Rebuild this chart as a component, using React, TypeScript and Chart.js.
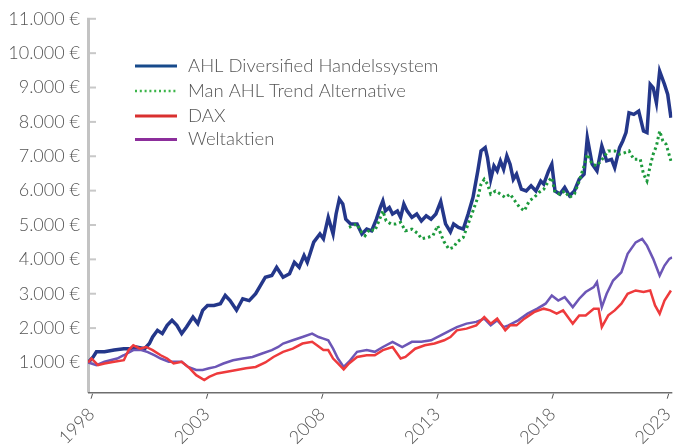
import React, { useEffect, useRef } from "react";
import { Chart, registerables } from "chart.js";

Chart.register(...registerables);

// ---- data (x = year as decimal, y = value in €) ----
const ahlYears = [1997.85, 1998.07, 1998.21, 1998.56, 1998.98, 1999.4, 1999.68, 1999.95, 2000.3, 2000.51, 2000.65, 2000.86, 2001.07, 2001.28, 2001.49, 2001.7, 2001.91, 2002.12, 2002.4, 2002.61, 2002.82, 2003.03, 2003.31, 2003.59, 2003.8, 2004.01, 2004.29, 2004.56, 2004.84, 2005.12, 2005.54, 2005.82, 2006.03, 2006.31, 2006.59, 2006.8, 2007.01, 2007.22, 2007.36, 2007.64, 2007.91, 2008.06, 2008.27, 2008.48, 2008.61, 2008.75, 2008.9, 2009.03, 2009.24, 2009.52, 2009.73, 2009.94, 2010.15, 2010.36, 2010.53, 2010.64, 2010.75, 2010.92, 2011.06, 2011.27, 2011.41, 2011.55, 2011.69, 2011.9, 2012.11, 2012.31, 2012.52, 2012.73, 2012.94, 2013.15, 2013.36, 2013.57, 2013.71, 2013.92, 2014.13, 2014.34, 2014.55, 2014.76, 2014.9, 2015.08, 2015.18, 2015.32, 2015.46, 2015.6, 2015.74, 2015.88, 2016.02, 2016.16, 2016.3, 2016.44, 2016.65, 2016.86, 2017.07, 2017.28, 2017.49, 2017.62, 2017.83, 2017.97, 2018.11, 2018.32, 2018.53, 2018.74, 2018.95, 2019.16, 2019.37, 2019.51, 2019.72, 2019.93, 2020.14, 2020.35, 2020.56, 2020.7, 2020.91, 2021.05, 2021.19, 2021.32, 2021.53, 2021.74, 2021.95, 2022.1, 2022.24, 2022.37, 2022.51, 2022.65, 2022.86, 2023.0, 2023.14];
const ahlValues = [1000, 1160, 1310, 1310, 1360, 1400, 1400, 1450, 1400, 1550, 1740, 1935, 1840, 2080, 2225, 2080, 1840, 2030, 2320, 2130, 2515, 2660, 2660, 2710, 2950, 2800, 2520, 2855, 2800, 3000, 3480, 3530, 3770, 3480, 3580, 3915, 3770, 4110, 3915, 4500, 4740, 4600, 5220, 4740, 5320, 5750, 5610, 5170, 5030, 5030, 4740, 4880, 4830, 5170, 5510, 5700, 5410, 5510, 5320, 5410, 5220, 5610, 5410, 5220, 5320, 5120, 5270, 5170, 5320, 5680, 5030, 4800, 5030, 4930, 4880, 5320, 5800, 6575, 7155, 7250, 6960, 6330, 6720, 6575, 6865, 6620, 7010, 6770, 6330, 6480, 6040, 5990, 6140, 5990, 6280, 6190, 6575, 6770, 5990, 5900, 6090, 5850, 5990, 6330, 6480, 7540, 6770, 6575, 7300, 6865, 6910, 6670, 7250, 7445, 7690, 8265, 8220, 8315, 7735, 7690, 9090, 8990, 8555, 9475, 9090, 8800, 8120];

const manYears = [2009.17, 2009.52, 2009.66, 2009.87, 2010.08, 2010.29, 2010.5, 2010.64, 2010.78, 2010.99, 2011.2, 2011.41, 2011.62, 2011.9, 2012.18, 2012.31, 2012.6, 2012.81, 2013.02, 2013.15, 2013.29, 2013.5, 2013.71, 2013.85, 2014.13, 2014.34, 2014.55, 2014.76, 2014.9, 2015.04, 2015.18, 2015.32, 2015.53, 2015.74, 2015.95, 2016.16, 2016.37, 2016.58, 2016.78, 2016.99, 2017.2, 2017.41, 2017.62, 2017.83, 2017.97, 2018.11, 2018.32, 2018.53, 2018.74, 2018.95, 2019.16, 2019.37, 2019.51, 2019.72, 2019.93, 2020.21, 2020.42, 2020.7, 2020.91, 2021.12, 2021.32, 2021.53, 2021.81, 2021.95, 2022.1, 2022.24, 2022.37, 2022.51, 2022.65, 2022.79, 2022.93, 2023.14];
const manValues = [4930, 5030, 4830, 4690, 4880, 4830, 5170, 5410, 5120, 5030, 5030, 5075, 4830, 4880, 4740, 4600, 4640, 4690, 4980, 4740, 4520, 4300, 4350, 4500, 4640, 5030, 5410, 5800, 6190, 6330, 6190, 5900, 5990, 5900, 5800, 5900, 5700, 5510, 5410, 5700, 5800, 5945, 6040, 6280, 6380, 5945, 5900, 5990, 5800, 5900, 6280, 6720, 7060, 6770, 6720, 6960, 7155, 7155, 7060, 7100, 7155, 6910, 6910, 6480, 6280, 6720, 7060, 7300, 7735, 7445, 7350, 6865];

const daxYears = [1997.85, 1998.0, 1998.28, 1998.56, 1998.98, 1999.4, 1999.61, 1999.81, 2000.1, 2000.37, 2000.65, 2001.0, 2001.28, 2001.56, 2001.91, 2002.26, 2002.54, 2002.89, 2003.1, 2003.45, 2003.87, 2004.29, 2004.7, 2005.12, 2005.54, 2005.89, 2006.31, 2006.73, 2007.15, 2007.57, 2007.78, 2008.06, 2008.27, 2008.48, 2008.69, 2008.94, 2009.17, 2009.52, 2009.94, 2010.29, 2010.64, 2011.06, 2011.41, 2011.62, 2012.04, 2012.46, 2012.88, 2013.3, 2013.57, 2013.85, 2014.27, 2014.69, 2015.04, 2015.32, 2015.6, 2015.95, 2016.16, 2016.44, 2016.78, 2017.2, 2017.62, 2017.9, 2018.18, 2018.46, 2018.88, 2019.16, 2019.44, 2019.79, 2020.0, 2020.14, 2020.42, 2020.7, 2020.99, 2021.26, 2021.61, 2021.95, 2022.24, 2022.45, 2022.65, 2022.86, 2023.14];
const daxValues = [1000, 1115, 920, 970, 1020, 1065, 1360, 1500, 1400, 1450, 1360, 1210, 1115, 970, 1020, 830, 630, 490, 580, 680, 730, 780, 830, 870, 1000, 1160, 1310, 1400, 1550, 1600, 1500, 1360, 1360, 1115, 970, 800, 970, 1160, 1210, 1210, 1360, 1450, 1115, 1160, 1400, 1500, 1550, 1645, 1740, 1935, 1985, 2080, 2320, 2130, 2275, 1935, 2080, 2080, 2275, 2465, 2565, 2515, 2420, 2515, 2130, 2370, 2370, 2565, 2565, 2030, 2370, 2515, 2710, 3000, 3095, 3050, 3095, 2660, 2420, 2800, 3095];

const weltYears = [1997.85, 1998.21, 1998.56, 1999.11, 1999.4, 1999.81, 2000.16, 2000.44, 2000.72, 2001.0, 2001.35, 2001.63, 2001.91, 2002.19, 2002.54, 2002.82, 2003.1, 2003.38, 2003.72, 2004.14, 2004.56, 2004.98, 2005.4, 2005.82, 2006.1, 2006.31, 2006.73, 2007.15, 2007.57, 2007.85, 2008.06, 2008.27, 2008.48, 2008.69, 2008.94, 2009.17, 2009.52, 2009.94, 2010.29, 2010.64, 2011.06, 2011.48, 2011.9, 2012.31, 2012.73, 2013.15, 2013.57, 2013.85, 2014.27, 2014.69, 2015.04, 2015.32, 2015.6, 2015.88, 2016.09, 2016.51, 2016.92, 2017.34, 2017.7, 2017.97, 2018.25, 2018.53, 2018.88, 2019.16, 2019.44, 2019.79, 2019.93, 2020.14, 2020.35, 2020.63, 2020.99, 2021.26, 2021.61, 2021.89, 2022.1, 2022.37, 2022.65, 2022.86, 2023.07, 2023.19];
const weltValues = [1000, 920, 1020, 1115, 1210, 1360, 1360, 1300, 1210, 1115, 1020, 1020, 1020, 870, 780, 780, 830, 870, 970, 1065, 1115, 1160, 1260, 1360, 1450, 1550, 1645, 1740, 1840, 1740, 1695, 1645, 1400, 1115, 870, 1020, 1310, 1360, 1310, 1450, 1600, 1450, 1600, 1600, 1645, 1790, 1935, 2030, 2130, 2180, 2275, 2080, 2225, 2030, 2080, 2225, 2420, 2565, 2710, 2950, 2800, 2900, 2610, 2855, 3050, 3190, 3340, 2610, 3000, 3385, 3625, 4160, 4495, 4595, 4400, 4015, 3530, 3820, 4015, 4060];

const seriesLabels = ["AHL Diversified Handelssystem", "Man AHL Trend Alternative", "DAX", "Weltaktien"];
const yTickValues = [1000, 2000, 3000, 4000, 5000, 6000, 7000, 8000, 9000, 10000, 11000];
const xTickValues = [1998, 2003, 2008, 2013, 2018, 2023];

const FONT_FAMILY = "Lato, 'Open Sans', sans-serif";
const TEXT_COLOR = "#555555";

const toPoints = (xs: number[], ys: number[]) => xs.map((x, i) => ({ x, y: ys[i] }));

const legendStyles = [
  { color: "#174a8b", dash: [] as number[] },
  { color: "#3cb54a", dash: [2, 2.8] },
  { color: "#d9302f", dash: [] as number[] },
  { color: "#8c2e9b", dash: [] as number[] },
];

const decorPlugin = {
  id: "decor",
  beforeDatasetsDraw(chart: any) {
    const { ctx, chartArea, scales } = chart;
    const ys = scales.y;
    const xs = scales.x;
    ctx.save();
    // y axis line
    ctx.strokeStyle = "#c3c3c3";
    ctx.lineWidth = 3;
    ctx.beginPath();
    ctx.moveTo(chartArea.left + 0.5, chartArea.top - 1);
    ctx.lineTo(chartArea.left + 0.5, chartArea.bottom);
    ctx.stroke();
    // y tick marks (inside)
    ctx.strokeStyle = "#c8c8c8";
    ctx.lineWidth = 2;
    yTickValues.forEach((v) => {
      const py = ys.getPixelForValue(v);
      ctx.beginPath();
      ctx.moveTo(chartArea.left + 2, py);
      ctx.lineTo(chartArea.left + 8, py);
      ctx.stroke();
    });
    // x axis line
    ctx.strokeStyle = "#6e6e6e";
    ctx.lineWidth = 1.5;
    ctx.beginPath();
    ctx.moveTo(chartArea.left, chartArea.bottom);
    ctx.lineTo(chartArea.right, chartArea.bottom);
    ctx.stroke();
    // x tick marks (slanted)
    ctx.strokeStyle = "#555";
    ctx.lineWidth = 1;
    xTickValues.forEach((v) => {
      const px = xs.getPixelForValue(v);
      ctx.beginPath();
      ctx.moveTo(px + 1, chartArea.bottom + 1);
      ctx.lineTo(px - 0.5, chartArea.bottom + 6);
      ctx.stroke();
    });
    ctx.restore();
  },
  afterDraw(chart: any) {
    const { ctx } = chart;
    const rows = [66, 91, 116, 139.5];
    ctx.save();
    seriesLabels.forEach((label, i) => {
      const y = rows[i];
      const st = legendStyles[i];
      ctx.strokeStyle = st.color;
      ctx.lineWidth = i === 1 ? 2.5 : 3;
      ctx.setLineDash(st.dash);
      ctx.beginPath();
      ctx.moveTo(135, y);
      ctx.lineTo(177, y);
      ctx.stroke();
      ctx.setLineDash([]);
      ctx.fillStyle = TEXT_COLOR;
      ctx.font = `300 18.5px ${FONT_FAMILY}`;
      ctx.textAlign = "left";
      ctx.textBaseline = "middle";
      ctx.fillText(label, 188, y);
    });
    ctx.restore();
  },
};

export default function App() {
  const ref = useRef<HTMLCanvasElement>(null);
  useEffect(() => {
    document.body.style.margin = "0";
    const canvas = ref.current!;
    const chart = new Chart(canvas, {
      type: "line",
      data: {
        datasets: [
          {
            label: seriesLabels[1],
            data: toPoints(manYears, manValues),
            borderColor: "#1d9a3c",
            borderWidth: 3,
            borderDash: [2.5, 3],
            pointRadius: 0,
            tension: 0,
            order: 0,
          },
          {
            label: seriesLabels[2],
            data: toPoints(daxYears, daxValues),
            borderColor: "#ee3a3c",
            borderWidth: 2.5,
            pointRadius: 0,
            tension: 0,
            order: 1,
          },
          {
            label: seriesLabels[3],
            data: toPoints(weltYears, weltValues),
            borderColor: "#6c56b6",
            borderWidth: 2.5,
            pointRadius: 0,
            tension: 0,
            order: 2,
          },
          {
            label: seriesLabels[0],
            data: toPoints(ahlYears, ahlValues),
            borderColor: "#24378a",
            borderWidth: 3.5,
            pointRadius: 0,
            tension: 0,
            order: 3,
          },
        ],
      },
      options: {
        responsive: false,
        animation: false,
        events: [],
        layout: { padding: { top: 17, right: 1, left: 0, bottom: 0 } },
        plugins: { legend: { display: false }, tooltip: { enabled: false } },
        scales: {
          x: {
            type: "linear",
            min: 1997.845,
            max: 2023.2,
            afterBuildTicks: (s: any) => {
              s.ticks = xTickValues.map((v) => ({ value: v }));
            },
            afterFit: (s: any) => {
              s.height = 53.3;
            },
            grid: { display: false, drawTicks: false },
            border: { display: false },
            ticks: {
              autoSkip: false,
              maxRotation: 45,
              minRotation: 45,
              padding: 11,
              color: TEXT_COLOR,
              font: { family: FONT_FAMILY, size: 18, weight: "300" as any },
              callback: (v: any) => String(v),
            },
          },
          y: {
            type: "linear",
            min: 120,
            max: 11000,
            afterBuildTicks: (s: any) => {
              s.ticks = yTickValues.map((v) => ({ value: v }));
            },
            afterFit: (s: any) => {
              s.width = 88;
            },
            grid: { display: false, drawTicks: false },
            border: { display: false },
            ticks: {
              padding: 8,
              color: TEXT_COLOR,
              font: { family: FONT_FAMILY, size: 18, weight: "300" as any },
              callback: (v: any) => Number(v).toLocaleString("de-DE") + " €",
            },
          },
        },
      },
      plugins: [decorPlugin],
    });
    return () => chart.destroy();
  }, []);
  return (
    <div style={{ width: 694, height: 446, position: "relative" }}>
      <canvas ref={ref} width={694} height={446} />
    </div>
  );
}
